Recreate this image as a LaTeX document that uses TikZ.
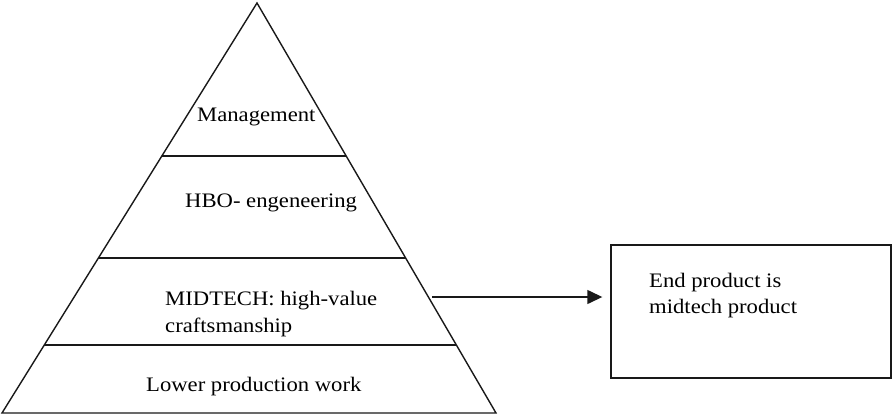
\documentclass[tikz,border=0pt]{standalone}
\usepackage{fontspec}
\setmainfont{Liberation Serif}[FakeStretch=1.1]
\usetikzlibrary{arrows.meta,calc}

\begin{document}
\begin{tikzpicture}[x=1pt,y=-1pt,
  outline/.style={line width=1.4pt,black!90},
  label/.style={inner sep=0pt,anchor=base west,font=\fontsize{20.6}{26}\selectfont},
  endbox/.style={draw,line width=1.4pt,black!90,minimum width=280pt,minimum height=133pt,inner sep=0pt},
  flow/.style={line width=1.4pt,black!90,-{Triangle[length=15pt,width=14pt]}}]
  \useasboundingbox (0,0) rectangle (892,416);

  % pyramid corners
  \coordinate (apex) at (257,3);
  \coordinate (bl) at (2,413);
  \coordinate (br) at (496,413);
  \draw[outline,line join=miter] (bl) -- (apex) -- (br) -- cycle;

  % layer boundaries
  \coordinate (d1l) at ($(bl)!0.6268!(apex)$);
  \coordinate (d1r) at ($(br)!0.6268!(apex)$);
  \coordinate (d2l) at ($(bl)!0.3780!(apex)$);
  \coordinate (d2r) at ($(br)!0.3780!(apex)$);
  \coordinate (d3l) at ($(bl)!0.1659!(apex)$);
  \coordinate (d3r) at ($(br)!0.1659!(apex)$);
  \draw[outline] (d1l) -- (d1r);
  \draw[outline] (d2l) -- (d2r);
  \draw[outline] (d3l) -- (d3r);

  % layer texts
  \node[label] (mgmt) at (197,121) {Management};
  \node[label] (hbo) at (185,207) {HBO- engeneering};
  \node[label] (mid1) at (165,305) {MIDTECH: high-value};
  \node[label] (mid2) at (165,332) {craftsmanship};
  \node[label] (lower) at (146,391) {Lower production work};

  % result box
  \node[endbox] (box) at (751,311.5) {};
  \node[label] (end1) at (649,287) {End product is};
  \node[label] (end2) at (649,313) {midtech product};

  % connector
  \coordinate (from) at (432,297);
  \draw[flow,shorten >=8pt] (from) -- (box.west |- from);
\end{tikzpicture}
\end{document}
